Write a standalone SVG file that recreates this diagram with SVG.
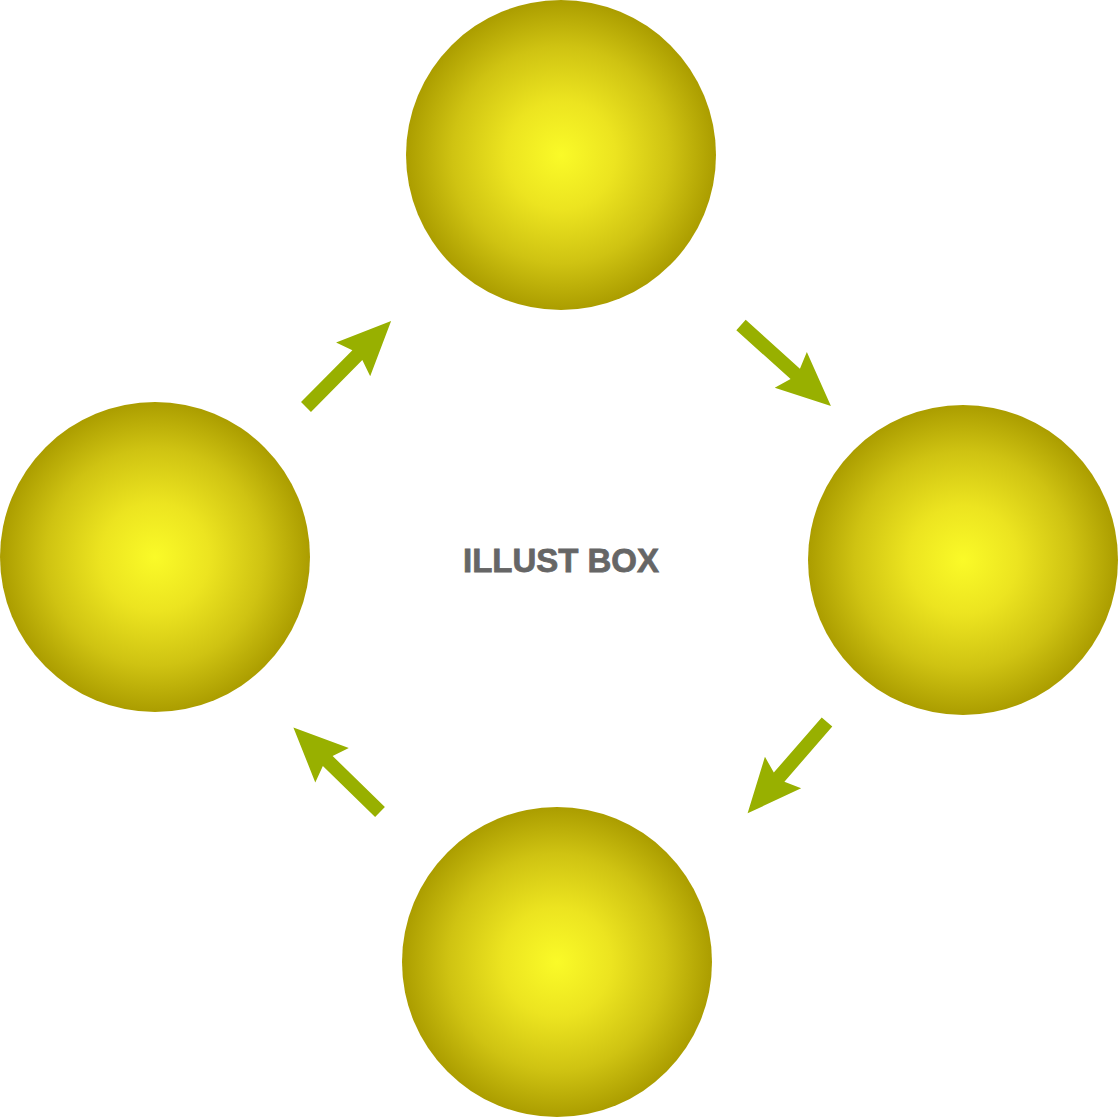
<svg xmlns="http://www.w3.org/2000/svg" width="1119" height="1118" viewBox="0 0 1119 1118">
<defs>
<radialGradient id="ball" cx="0.5" cy="0.5" r="0.5">
<stop offset="0" stop-color="#fafa28"/>
<stop offset="0.35" stop-color="#ece420"/>
<stop offset="0.7" stop-color="#cfc312"/>
<stop offset="1" stop-color="#ab9d00"/>
</radialGradient>
<path id="arrow" d="M0,-7 L73,-7 L67,-24 L121,0 L67,24 L73,7 L0,7 Z"/>
<style>
.node{fill:url(#ball)}
.arr{fill:#98b000}
.lbl{font-family:"Liberation Sans",Arial,sans-serif;font-weight:bold;font-size:34px;fill:#666666;stroke:#666666;stroke-width:0.8px}
</style>
</defs>
<rect width="1119" height="1118" fill="#ffffff"/>
<g id="node-top"><circle class="node" cx="561" cy="155" r="155"/></g>
<g id="node-right"><circle class="node" cx="963" cy="560" r="155"/></g>
<g id="node-bottom"><circle class="node" cx="557" cy="962" r="155"/></g>
<g id="node-left"><circle class="node" cx="155" cy="557" r="155"/></g>
<g id="connectors" class="arr">
<use href="#arrow" transform="translate(306,407) rotate(-45.3)"/>
<use href="#arrow" transform="translate(741,325) rotate(42)"/>
<use href="#arrow" transform="translate(827,722) rotate(131)"/>
<use href="#arrow" transform="translate(380,812) rotate(224.3)"/>
</g>
<g id="label"><text class="lbl" x="463" y="572" textLength="196" lengthAdjust="spacingAndGlyphs">ILLUST BOX</text></g>
</svg>
